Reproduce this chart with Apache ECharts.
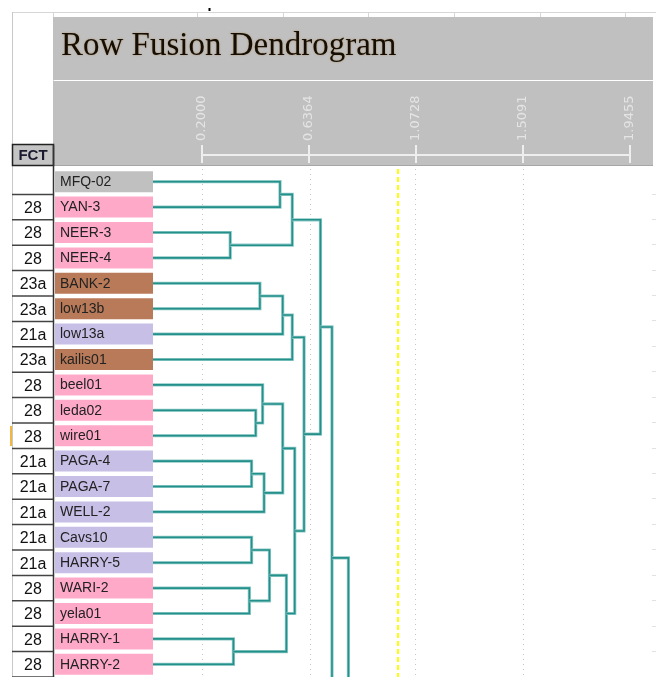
<!DOCTYPE html>
<html><head><meta charset="utf-8">
<script src="https://cdn.jsdelivr.net/npm/echarts@6/dist/echarts.min.js"></script>
<style>html,body{margin:0;padding:0;background:#fff}#c{width:656px;height:677px}</style>
</head><body><div id="c"></div>
<script>
// ---------------- data ----------------
const titleText = 'Row Fusion Dendrogram';
const fctHeader = 'FCT';
const leaves = ['MFQ-02','YAN-3','NEER-3','NEER-4','BANK-2','low13b','low13a','kailis01','beel01','leda02','wire01','PAGA-4','PAGA-7','WELL-2','Cavs10','HARRY-5','WARI-2','yela01','HARRY-1','HARRY-2'];
const fct = ['','28','28','28','23a','23a','21a','23a','28','28','28','21a','21a','21a','21a','21a','28','28','28','28'];
const tickLabels = ['0.2000','0.6364','1.0728','1.5091','1.9455'];
const axisMin = 0.2, axisMax = 1.9455;
const cutLevel = 1.0;
// merges: [childA, childB, fusion level]; 'mK' refers to merge K
const merges = [
  ['MFQ-02','YAN-3',0.518],
  ['NEER-3','NEER-4',0.315],
  ['m0','m1',0.568],
  ['BANK-2','low13b',0.436],
  ['m3','low13a',0.529],
  ['m4','kailis01',0.568],
  ['leda02','wire01',0.419],
  ['beel01','m6',0.447],
  ['PAGA-4','PAGA-7',0.402],
  ['m8','WELL-2',0.453],
  ['m7','m9',0.529],
  ['Cavs10','HARRY-5',0.402],
  ['WARI-2','yela01',0.393],
  ['m11','m12',0.475],
  ['HARRY-1','HARRY-2',0.328],
  ['m13','m14',0.544],
  ['m10','m15',0.578],
  ['m5','m16',0.616],
  ['m2','m17',0.683],
  ['m18','below1',0.730],
  ['m19','below2',0.797]
];
// clusters continuing below the visible rows (row position, own level)
const belowClusters = [['below1',23.9,0.60],['below2',34,0.70]];

// ---------------- build ----------------
const groupColors = {'28':'#ffa9c9','23a':'#b87a58','21a':'#c7bfe6','':'#c0c0c0'};
const pos = {};
leaves.forEach((n,i)=>{pos[n]={h:0,y:i};});
belowClusters.forEach(b=>{pos[b[0]]={h:b[2],y:b[1]};});
const linkData = merges.map((m,k)=>{
  const a=pos[m[0]], b=pos[m[1]];
  pos['m'+k]={h:m[2],y:(a.y+b.y)/2};
  return [a.h,a.y,m[2],b.y,b.h];
});
const span = axisMax-axisMin, step = span/4;
const tickValues = tickLabels.map(Number);

const chart = echarts.init(document.getElementById('c'), null, {renderer:'canvas'});
const bg = [
  {type:'line', shape:{x1:12,y1:12.5,x2:656,y2:12.5}, style:{stroke:'#d6d6d6',lineWidth:1}},
  {type:'line', shape:{x1:12.5,y1:12,x2:12.5,y2:677}, style:{stroke:'#c8c8c8',lineWidth:1}},
  {type:'line', shape:{x1:53.5,y1:12,x2:53.5,y2:145}, style:{stroke:'#d6d6d6',lineWidth:1}},
  {type:'line', shape:{x1:209.5,y1:8,x2:209.5,y2:11}, style:{stroke:'#000',lineWidth:2}},
  {type:'rect', shape:{x:53,y:17,width:600,height:63}, style:{fill:'#c0c0c0'}},
  {type:'rect', shape:{x:53,y:81,width:600,height:84}, style:{fill:'#c0c0c0'}},
  {type:'line', shape:{x1:53,y1:165.5,x2:653,y2:165.5}, style:{stroke:'#a6a6a6',lineWidth:1}},
  {type:'rect', shape:{x:12.5,y:144.5,width:41,height:21}, style:{fill:'#c4c4c4',stroke:'#222',lineWidth:1.5}},
  {type:'text', style:{text:fctHeader,x:33,y:156,align:'center',verticalAlign:'middle',font:'bold 15px "Liberation Sans"',fill:'#1a1a2e'}},
  {type:'line', shape:{x1:53.5,y1:145,x2:53.5,y2:677}, style:{stroke:'#333',lineWidth:1.5}},
  {type:'line', shape:{x1:11,y1:426,x2:11,y2:446}, style:{stroke:'#f0b840',lineWidth:2}}
].map(e=>Object.assign(e,{z:-10,silent:true}));
[197.5,283.5,368.5,454.5,540.5,625.5].forEach(x=>bg.push({type:'line',z:-10,shape:{x1:x,y1:12,x2:x,y2:17},style:{stroke:'#d6d6d6',lineWidth:1}}));
[194.5,219.5,244.5,270.5,295.5,320.5,346.5,371.5,397.5,422.5,448.5,473.5,498.5,524.5,549.5,575.5,600.5,626.5,651.5].forEach(y=>bg.push({type:'line',z:-10,shape:{x1:652,y1:y,x2:656,y2:y},style:{stroke:'#e2e2e2',lineWidth:1}}));

chart.setOption({
  animation:false,
  backgroundColor:'#fff',
  title:{text:titleText,left:61,top:30,padding:0,
    textStyle:{fontFamily:'Liberation Serif',fontSize:33,fontWeight:'normal',color:'#140e04',
      textShadowColor:'rgba(170,110,40,0.6)',textShadowBlur:2}},
  graphic:{elements:bg},
  grid:[
    {left:202,right:26,top:163,height:10},
    {left:202,right:26,top:155,height:10},
    {left:153,right:26,top:169,bottom:0}
  ],
  xAxis:[
    {gridIndex:0,type:'value',position:'top',min:0,max:span,interval:step,
     axisLine:{show:false,onZero:false},
     axisTick:{show:true,length:18,lineStyle:{color:'#eeeeee',width:2}},
     axisLabel:{rotate:-90,margin:22,color:'#e4e4e4',fontSize:13,fontFamily:'DejaVu Sans',
       formatter:v=>tickLabels[Math.round(v/step)]},
     splitLine:{show:false}},
    {gridIndex:1,type:'value',position:'top',min:0,max:span,
     axisLine:{show:true,onZero:false,lineStyle:{color:'#eeeeee',width:2}},
     axisTick:{show:false},axisLabel:{show:false},splitLine:{show:false}},
    {gridIndex:2,type:'value',min:0,max:axisMax,show:false}
  ],
  yAxis:[
    {gridIndex:0,type:'value',show:false,min:0,max:1},
    {gridIndex:1,type:'value',show:false,min:0,max:1},
    {gridIndex:2,type:'value',show:false,inverse:true,min:-0.5,max:19.5}
  ],
  series:[
    {type:'custom',xAxisIndex:2,yAxisIndex:2,clip:false,silent:true,
     data:leaves.map((n,i)=>[0,i]),encode:{x:0,y:1},
     renderItem:(params,api)=>{
       const i=api.value(1); const p=api.coord([0,i]); const rh=api.size([0,1])[1];
       return {type:'group',children:[
         {type:'rect',shape:{x:p[0]-98,y:p[1]-10.5,width:98,height:21},style:{fill:groupColors[fct[i]]}},
         {type:'text',style:{text:leaves[i],x:p[0]-93,y:p[1]+0.5,verticalAlign:'middle',font:'14px "Liberation Sans"',fill:'#222'}},
         {type:'text',style:{text:fct[i],x:33,y:p[1]+1.5,align:'center',verticalAlign:'middle',font:'16px "Liberation Sans"',fill:'#111'}},
         {type:'line',shape:{x1:12,y1:p[1]+rh/2,x2:53,y2:p[1]+rh/2},style:{stroke:'#444',lineWidth:1.5}}
       ]};
     },
     markLine:{silent:true,symbol:'none',label:{show:false},z:1,
       lineStyle:{color:'#c4c4c4',type:[1,4],width:1},
       data:tickValues.map(v=>({xAxis:v}))}},
    {type:'custom',xAxisIndex:2,yAxisIndex:2,clip:true,silent:true,
     data:linkData,encode:{x:[0,2,4],y:[1,3]},
     renderItem:(params,api)=>{
       const pts=[api.coord([api.value(0),api.value(1)]),api.coord([api.value(2),api.value(1)]),
                  api.coord([api.value(2),api.value(3)]),api.coord([api.value(4),api.value(3)])];
       return {type:'group',children:[
         {type:'polyline',shape:{points:pts},style:{fill:null,stroke:'#8fcac6',lineWidth:3.2}},
         {type:'polyline',shape:{points:pts},style:{fill:null,stroke:'#23908b',lineWidth:1.6}}
       ]};
     },
     markLine:{silent:true,symbol:'none',label:{show:false},
       lineStyle:{color:'#ffff00',type:[5,3],width:2},
       data:[{xAxis:cutLevel}]}}
  ]
});
</script></body></html>
